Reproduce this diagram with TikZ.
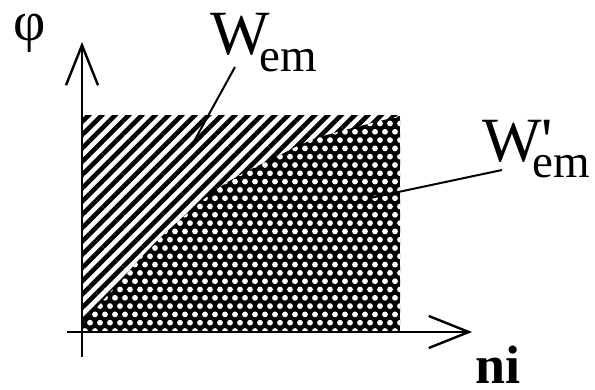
\documentclass[tikz,border=0pt]{standalone}
\usepackage{fontspec}
\setmainfont{Liberation Serif}
\usetikzlibrary{arrows.meta, patterns.meta}

\newcommand{\subem}[1]{\raisebox{#1}{\fontsize{47}{47}\selectfont em}}

\begin{document}
\begin{tikzpicture}[
  x=1pt, y=-1pt,
  axis/.style={line width=2.8pt,
               -{Straight Barb[length=40pt, width=32pt, line width=2.4pt]}},
  leader/.style={line width=2pt},
  big/.style={inner sep=0pt, anchor=base west,
              font=\fontsize{63}{63}\selectfont},
  hatchfill/.style={pattern={Lines[angle=45, distance=9.4pt, line width=4.6pt]}},
  holedot/.style={fill=white}
]
\useasboundingbox (0,0) rectangle (595,390);

%% ---------- the two energy areas ----------
\fill[hatchfill] (82,116) rectangle (400,332);
\begin{scope}
  \clip (82,332) -- (82,325)
    -- plot[smooth] coordinates {(82,325) (114,288) (160,238) (220,187)
                                 (280,155) (320,137) (400,116)}
    -- (400,332) -- cycle;
  \fill[black] (82,110) rectangle (400,332);
  \foreach \row in {0,...,26} {
    \pgfmathsetmacro{\xoff}{mod(\row,2)*5}
    \foreach \col in {0,...,32}
      \fill[holedot] ({85+\xoff+\col*10},{331-\row*8.3}) circle (2.9);
  }
\end{scope}

%% ---------- axes ----------
\draw[axis] (67,332) -- (472,332);
\draw[axis] (82,357) -- (82,42);

%% ---------- labels ----------
\node[big, font=\fontsize{56}{56}\selectfont] (phi) at (13,41) {φ};
\node[big, font=\fontsize{54}{54}\selectfont\bfseries] (ni) at (475,383) {ni};
\node[big] (wem) at (210,55) {W\kern-10pt\subem{-17pt}};
\node[big] (wemp) at (482,162)
  {W\rlap{\addfontfeature{Ligatures=TeXOff}'}\kern-9pt\subem{-16pt}};

%% ---------- leaders ----------
\coordinate (wemfoot) at (235,67);
\coordinate (wemtip) at (192,145);
\coordinate (wempfoot) at (502,170);
\coordinate (wemptip) at (370,198);
\draw[leader] (wemfoot) -- (wemtip);
\draw[leader] (wempfoot) -- (wemptip);
\end{tikzpicture}
\end{document}
